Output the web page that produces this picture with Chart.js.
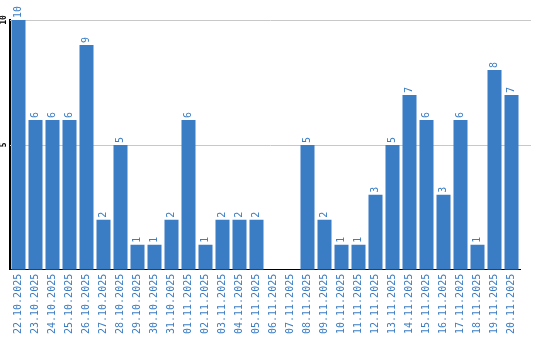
<!DOCTYPE html>
<html>
<head>
<meta charset="utf-8">
<script src="https://cdn.jsdelivr.net/npm/chart.js@4/dist/chart.umd.min.js"></script>
<style>
  html, body { margin: 0; padding: 0; background: #fff; }
  #wrap { width: 540px; height: 340px; position: relative; }
</style>
</head>
<body>
<div id="wrap"><canvas id="chart"></canvas></div>
<script>
// Dias e quantidades
const days = [
    '22.10.2025', '23.10.2025', '24.10.2025', '25.10.2025', '26.10.2025',
    '27.10.2025', '28.10.2025', '29.10.2025', '30.10.2025', '31.10.2025',
    '01.11.2025', '02.11.2025', '03.11.2025', '04.11.2025', '05.11.2025',
    '06.11.2025', '07.11.2025', '08.11.2025', '09.11.2025', '10.11.2025',
    '11.11.2025', '12.11.2025', '13.11.2025', '14.11.2025', '15.11.2025',
    '16.11.2025', '17.11.2025', '18.11.2025', '19.11.2025', '20.11.2025'
];
const counts = [10, 6, 6, 6, 9, 2, 5, 1, 1, 2, 6, 1, 2, 2, 2, 0, 0, 5, 2, 1, 1, 3, 5, 7, 6, 3, 6, 1, 8, 7];
const yTicks = [5, 10];

const BLUE = '#3b7dc4';
const MONO = '"DejaVu Sans Mono", monospace';

// Linhas de grade, rótulos do eixo Y e valores acima das barras
const extras = {
    id: 'extras',
    beforeDatasetsDraw(chart) {
        const { ctx, chartArea, scales } = chart;
        ctx.save();
        ctx.strokeStyle = '#c8c8c8';
        ctx.lineWidth = 1;
        yTicks.forEach(v => {
            const y = Math.round(scales.y.getPixelForValue(v)) + 0.5;
            ctx.beginPath();
            ctx.moveTo(chartArea.left, y);
            ctx.lineTo(chart.width - 9, y);
            ctx.stroke();
        });
        ctx.fillStyle = '#000';
        ctx.font = 'bold 8px ' + MONO;
        ctx.textAlign = 'center';
        ctx.textBaseline = 'middle';
        yTicks.forEach(v => {
            const y = scales.y.getPixelForValue(v);
            ctx.save();
            ctx.translate(4, y);
            ctx.rotate(-Math.PI / 2);
            ctx.fillText(String(v), 0, 0);
            ctx.restore();
        });
        ctx.restore();
    },
    afterDatasetsDraw(chart) {
        const { ctx } = chart;
        const meta = chart.getDatasetMeta(0);
        ctx.save();
        ctx.fillStyle = BLUE;
        ctx.font = '10px ' + MONO;
        ctx.textAlign = 'left';
        ctx.textBaseline = 'middle';
        meta.data.forEach((bar, i) => {
            if (!counts[i]) return;
            ctx.save();
            ctx.translate(bar.x, bar.y - 2);
            ctx.rotate(-Math.PI / 2);
            ctx.fillText(String(counts[i]), 0, 0);
            ctx.restore();
        });
        ctx.restore();
    }
};

new Chart(document.getElementById('chart').getContext('2d'), {
    type: 'bar',
    data: {
        labels: days,
        datasets: [{
            data: counts,
            backgroundColor: BLUE,
            borderWidth: 0,
            barPercentage: 1,
            categoryPercentage: 14 / 17
        }]
    },
    options: {
        responsive: true,
        maintainAspectRatio: false,
        animation: false,
        layout: { padding: { left: 2, right: 20, top: 20, bottom: 2 } },
        scales: {
            x: {
                grid: { display: false, drawTicks: false, tickLength: 0 },
                border: { color: '#000', width: 1 },
                ticks: {
                    color: BLUE,
                    font: { family: MONO, size: 10 },
                    autoSkip: false,
                    minRotation: 90,
                    maxRotation: 90,
                    padding: 4
                }
            },
            y: {
                min: 0,
                max: 10,
                grid: { display: false },
                border: { color: '#000', width: 2 },
                ticks: { display: false, stepSize: 5 }
            }
        },
        plugins: {
            legend: { display: false },
            tooltip: { enabled: false }
        }
    },
    plugins: [extras]
});
</script>
</body>
</html>
